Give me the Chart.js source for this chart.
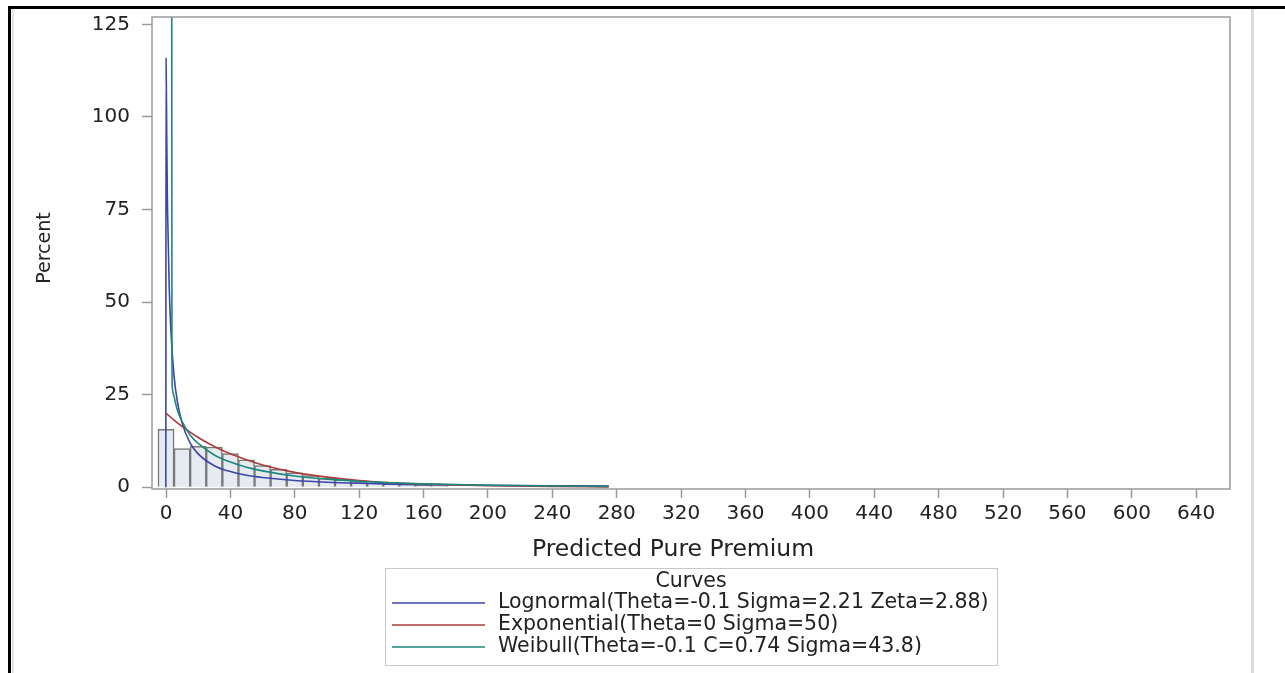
<!DOCTYPE html>
<html>
<head>
<meta charset="utf-8">
<title>Predicted Pure Premium</title>
<script src="https://cdn.jsdelivr.net/npm/chart.js@4.4.1/dist/chart.umd.min.js"></script>
<style>
    body { margin: 0; background: #fff; }
    #frame { position: absolute; left: 8px; top: 6px; width: 1300px; height: 700px; border-top: 3px solid #000; border-left: 3px solid #000; }
    #innerLine { position: absolute; left: 12px; top: 9px; width: 2px; height: 700px; background: #e2e2e2; }
    #rightLine { position: absolute; left: 1251px; top: 9px; width: 3px; height: 700px; background: #dcdcdc; }
    #wrap { position: absolute; left: 0; top: 0; width: 1285px; height: 673px; }
</style>
</head>
<body>
<div id="frame"></div>
<div id="innerLine"></div>
<div id="rightLine"></div>
<div id="wrap"><canvas id="histChart" width="1285" height="673"></canvas></div>
<script>
// histogram bins (midpoints) and percent per bin
const binMids = [0, 10, 20, 30, 40, 50, 60, 70, 80, 90, 100, 110, 120, 130, 140, 150, 160, 170];
const binPercents = [15.6, 10.4, 11.0, 10.8, 9.1, 7.4, 5.8, 4.8, 3.9, 3.1, 2.4, 2.0, 1.5, 1.2, 0.9, 0.7, 0.5, 0.4];

// fitted curves
const lognormalX = [-0.1, 0.03, 0.2, 0.5, 0.8, 1, 2, 3, 5, 7, 10, 15, 20, 30, 40, 50, 60, 80, 100, 120, 140, 160, 200, 240, 275];
const lognormalY = [0, 116, 109, 93, 80, 74, 54, 42.5, 30, 23.3, 17.3, 11.9, 9.0, 5.8, 4.2, 3.2, 2.6, 1.8, 1.33, 1.04, 0.83, 0.69, 0.5, 0.38, 0.3];
const exponentialX = [0, 5, 10, 20, 30, 40, 50, 60, 80, 100, 120, 140, 160, 200, 240, 275];
const exponentialY = [20, 18.1, 16.4, 13.4, 11.0, 9.0, 7.4, 6.0, 4.0, 2.7, 1.8, 1.2, 0.82, 0.37, 0.16, 0.08];
const weibullX = [3.5, 3.7, 3.9, 5, 7, 10, 15, 20, 30, 40, 50, 60, 80, 100, 120, 140, 160, 200, 240, 275];
const weibullY = [200, 35, 27, 24.5, 20.9, 17.7, 14.1, 11.8, 8.7, 6.8, 5.4, 4.4, 3.0, 2.16, 1.58, 1.17, 0.89, 0.53, 0.32, 0.21];

const xTicks = [0, 40, 80, 120, 160, 200, 240, 280, 320, 360, 400, 440, 480, 520, 560, 600, 640];
const yTicks = [0, 25, 50, 75, 100, 125];

const curveLabels = [
    "Lognormal(Theta=-0.1 Sigma=2.21 Zeta=2.88)",
    "Exponential(Theta=0 Sigma=50)",
    "Weibull(Theta=-0.1 C=0.74 Sigma=43.8)"
];
const curveColors = ["#3b45aa", "#ad3b3b", "#1d877c"];

const fontName = '"DejaVu Sans", sans-serif';
const textColor = "#222";
const axisGray = "#9a9a9a";

function toPoints(xs, ys) {
    return xs.map((x, i) => ({ x: x, y: ys[i] }));
}

// plot frame round the chart area plus the two axis titles
const plotFrame = {
    id: "plotFrame",
    afterDatasetsDraw(chart) {
        const { ctx, chartArea } = chart;
        ctx.save();
        ctx.strokeStyle = axisGray;
        ctx.lineWidth = 1.5;
        ctx.strokeRect(chartArea.left, chartArea.top, chartArea.right - chartArea.left, chartArea.bottom - chartArea.top);
        ctx.fillStyle = textColor;
        ctx.textAlign = "center";
        ctx.textBaseline = "middle";
        ctx.font = "23.5px " + fontName;
        ctx.fillText("Predicted Pure Premium", 673, 550);
        ctx.translate(45, 248);
        ctx.rotate(-Math.PI / 2);
        ctx.font = "19px " + fontName;
        ctx.fillText("Percent", 0, 0);
        ctx.restore();
    }
};

// boxed legend with a "Curves" title, like the SAS output
const curveLegend = {
    id: "curveLegend",
    afterDraw(chart) {
        const ctx = chart.ctx;
        ctx.save();
        ctx.strokeStyle = "#c9c9c9";
        ctx.lineWidth = 1;
        ctx.strokeRect(385.5, 568.5, 612, 97);
        ctx.fillStyle = textColor;
        ctx.font = "20.5px " + fontName;
        ctx.textBaseline = "middle";
        ctx.textAlign = "center";
        ctx.fillText("Curves", 691, 582);
        ctx.textAlign = "left";
        const rows = [603, 625, 647];
        curveLabels.forEach((label, i) => {
            const d = chart.data.datasets.find(ds => ds.label === label);
            ctx.strokeStyle = d.borderColor;
            ctx.lineWidth = 1.5;
            ctx.beginPath();
            ctx.moveTo(392, rows[i]);
            ctx.lineTo(485, rows[i]);
            ctx.stroke();
            ctx.fillText(label, 498, rows[i]);
        });
        ctx.restore();
    }
};

const ctx = document.getElementById("histChart");
const chart = new Chart(ctx, {
    type: "bar",
    data: {
        datasets: [
            {
                type: "line",
                label: curveLabels[2],
                data: toPoints(weibullX, weibullY),
                borderColor: curveColors[2],
                borderWidth: 1.6,
                pointRadius: 0,
                cubicInterpolationMode: "monotone",
                clip: 0,
                order: 1
            },
            {
                type: "line",
                label: curveLabels[1],
                data: toPoints(exponentialX, exponentialY),
                borderColor: curveColors[1],
                borderWidth: 1.6,
                pointRadius: 0,
                cubicInterpolationMode: "monotone",
                clip: 0,
                order: 2
            },
            {
                type: "line",
                label: curveLabels[0],
                data: toPoints(lognormalX, lognormalY),
                borderColor: curveColors[0],
                borderWidth: 1.6,
                pointRadius: 0,
                cubicInterpolationMode: "monotone",
                clip: 0,
                order: 3
            },
            {
                type: "bar",
                label: "Percent",
                data: toPoints(binMids, binPercents),
                backgroundColor: "#e6ebf1",
                borderColor: "#777",
                borderWidth: 1.5,
                borderSkipped: "bottom",
                barPercentage: 1,
                categoryPercentage: 1,
                clip: 0,
                order: 4
            }
        ]
    },
    options: {
        responsive: false,
        animation: false,
        events: [],
        layout: {
            padding: { left: 0, top: 17, right: 55, bottom: 100 }
        },
        plugins: {
            legend: { display: false },
            tooltip: { enabled: false }
        },
        scales: {
            x: {
                type: "linear",
                min: -8.7,
                max: 661,
                offset: false,
                afterBuildTicks: (scale) => {
                    scale.ticks = xTicks.map(v => ({ value: v }));
                },
                afterFit: (scale) => {
                    scale.height = 84;
                    scale.paddingLeft = 0;
                    scale.paddingRight = 0;
                },
                ticks: {
                    autoSkip: false,
                    maxRotation: 0,
                    padding: 4,
                    color: textColor,
                    font: { family: fontName, size: 20 }
                },
                grid: {
                    offset: false,
                    drawOnChartArea: false,
                    drawTicks: true,
                    tickLength: 9,
                    tickColor: axisGray,
                    tickWidth: 1.5
                },
                border: { display: false }
            },
            y: {
                type: "linear",
                min: -0.5,
                max: 127,
                afterBuildTicks: (scale) => {
                    scale.ticks = yTicks.map(v => ({ value: v }));
                },
                afterFit: (scale) => {
                    scale.width = 152;
                    scale.paddingTop = 0;
                    scale.paddingBottom = 0;
                },
                ticks: {
                    padding: 12,
                    color: textColor,
                    font: { family: fontName, size: 20 }
                },
                grid: {
                    drawOnChartArea: false,
                    drawTicks: true,
                    tickLength: 10,
                    tickColor: axisGray,
                    tickWidth: 1.5
                },
                border: { display: false }
            }
        }
    },
    plugins: [plotFrame, curveLegend]
});
</script>
</body>
</html>
